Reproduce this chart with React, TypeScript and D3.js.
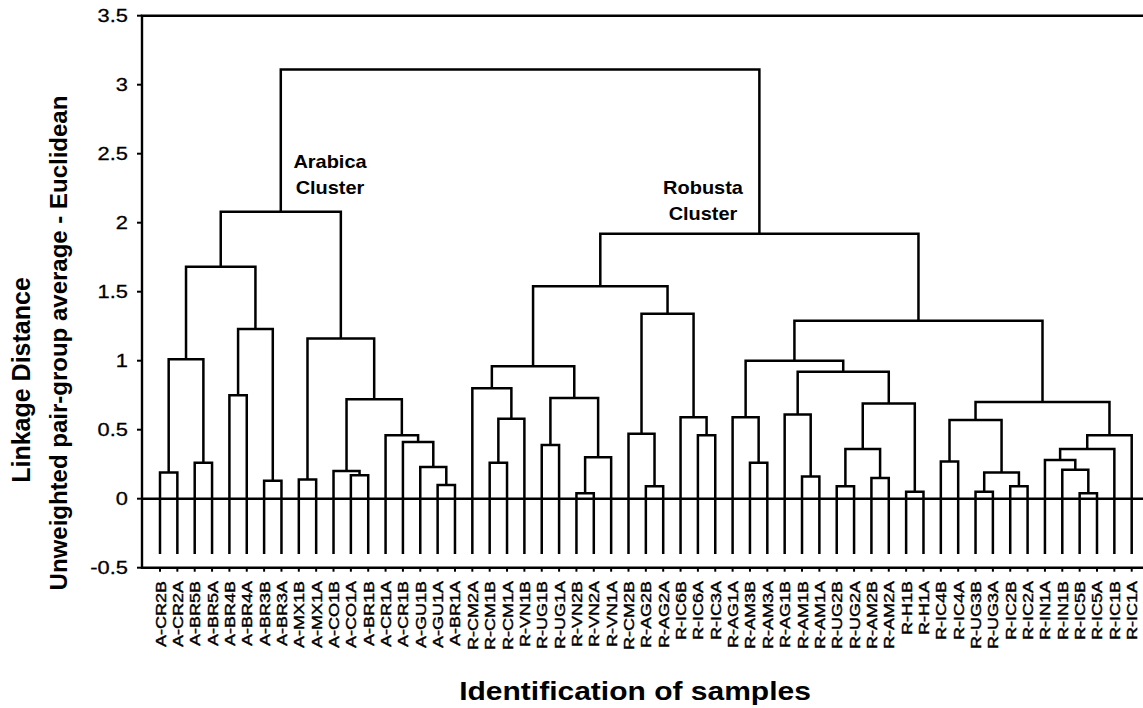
import React from "react";
import * as d3 from "d3";

// tree nodes: leaf label, or [left, right, linkage distance]
type Node = string | [Node, Node, number];

const arabicaCluster: Node = [
  [
    [["A-CR2B", "A-CR2A", 0.19], ["A-BR5B", "A-BR5A", 0.26], 1.01],
    [["A-BR4B", "A-BR4A", 0.75], ["A-BR3B", "A-BR3A", 0.13], 1.23],
    1.68,
  ],
  [
    ["A-MX1B", "A-MX1A", 0.14],
    [
      ["A-CO1B", ["A-CO1A", "A-BR1B", 0.17], 0.2],
      ["A-CR1A", ["A-CR1B", ["A-GU1B", ["A-GU1A", "A-BR1A", 0.1], 0.23], 0.41], 0.46],
      0.72,
    ],
    1.16,
  ],
  2.08,
];

const robustaLeft: Node = [
  [
    ["R-CM2A", [["R-CM1B", "R-CM1A", 0.26], "R-VN1B", 0.58], 0.8],
    [["R-UG1B", "R-UG1A", 0.39], [["R-VN2B", "R-VN2A", 0.04], "R-VN1A", 0.3], 0.73],
    0.96,
  ],
  [
    ["R-CM2B", ["R-AG2B", "R-AG2A", 0.09], 0.47],
    ["R-IC6B", ["R-IC6A", "R-IC3A", 0.46], 0.59],
    1.34,
  ],
  1.54,
];

const robustaRight: Node = [
  [
    ["R-AG1A", ["R-AM3B", "R-AM3A", 0.26], 0.59],
    [
      ["R-AG1B", ["R-AM1B", "R-AM1A", 0.16], 0.61],
      [[["R-UG2B", "R-UG2A", 0.09], ["R-AM2B", "R-AM2A", 0.15], 0.36], ["R-H1B", "R-H1A", 0.05], 0.69],
      0.92,
    ],
    1.0,
  ],
  [
    [["R-IC4B", "R-IC4A", 0.27], [["R-UG3B", "R-UG3A", 0.05], ["R-IC2B", "R-IC2A", 0.09], 0.19], 0.57],
    [[["R-IN1A", ["R-IN1B", ["R-IC5B", "R-IC5A", 0.04], 0.21], 0.28], "R-IC1B", 0.36], "R-IC1A", 0.46],
    0.7,
  ],
  1.29,
];

const robustaHeight = 1.92;
const rootHeight = 3.11;
const leafBase = -0.4;

const yTicks = [-0.5, 0, 0.5, 1, 1.5, 2, 2.5, 3, 3.5];

const clusterLabels = [
  { lines: ["Arabica", "Cluster"], x: 330, y: 168 },
  { lines: ["Robusta", "Cluster"], x: 703, y: 194 },
];

const FONT = "'Liberation Sans', Arial, Helvetica, sans-serif";

export default function App() {
  const W = 1143;
  const H = 708;
  const left = 142;
  const right = 1145;
  const top = 15.7;
  const bottom = 567.7;

  const y = d3.scaleLinear().domain([-0.5, 3.5]).range([bottom, top]);

  const tree: Node = [arabicaCluster, [robustaLeft, robustaRight, robustaHeight], rootHeight];
  const root: any = d3.hierarchy<Node>(tree, (d) => (typeof d === "string" ? null : [d[0], d[1]]));
  const leaves: string[] = root.leaves().map((l: any) => l.data);

  const x = d3.scalePoint<string>().domain(leaves).range([160, 1131.7]);

  // node x = midpoint of children, node height = linkage distance
  root.eachAfter((n: any) => {
    if (!n.children) {
      n.px = x(n.data);
      n.h = leafBase;
    } else {
      n.px = d3.mean(n.children, (c: any) => c.px);
      n.h = n.data[2];
    }
  });

  const links: string[] = root
    .descendants()
    .filter((n: any) => n.children)
    .map((n: any) => {
      const [a, b] = n.children;
      return `M${a.px},${y(a.h)}V${y(n.h)}H${b.px}V${y(b.h)}`;
    });

  return (
    <svg
      width={W}
      height={H}
      style={{ position: "absolute", left: 0, top: 0, background: "#fff" }}
      fontFamily={FONT}
    >
      {/* frame */}
      <path
        d={`M${right},${top}H${left}V${bottom}H${right}`}
        fill="none"
        stroke="#000"
        strokeWidth={2.4}
      />
      <line x1={left} x2={right} y1={y(0)} y2={y(0)} stroke="#000" strokeWidth={2.4} />

      {/* y axis */}
      {yTicks.map((t) => (
        <g key={t}>
          <line x1={left - 5} x2={left} y1={y(t)} y2={y(t)} stroke="#000" strokeWidth={2} />
          <text
            transform={`translate(128,${y(t) + 6.5}) scale(1.15,1)`}
            textAnchor="end"
            fontSize={19}
            stroke="#000"
            strokeWidth={0.3}
          >
            {String(t)}
          </text>
        </g>
      ))}

      {/* x axis ticks and leaf labels */}
      {leaves.map((l) => (
        <g key={l}>
          <line x1={x(l)} x2={x(l)} y1={bottom} y2={bottom + 4} stroke="#000" strokeWidth={2} />
          <text
            transform={`translate(${(x(l) as number) + 5.5},581) scale(0.85,1) rotate(-90)`}
            textAnchor="end"
            fontSize={18}
            stroke="#000"
            strokeWidth={0.5}
          >
            {l}
          </text>
        </g>
      ))}

      {/* dendrogram */}
      {links.map((d, i) => (
        <path key={i} d={d} fill="none" stroke="#000" strokeWidth={2.5} strokeLinejoin="miter" />
      ))}

      {clusterLabels.map((c) => (
        <g key={c.lines[0]}>
          {c.lines.map((t, i) => (
            <text
              key={i}
              transform={`translate(${c.x},${c.y + i * 25.5}) scale(1.05,1)`}
              textAnchor="middle"
              fontSize={19}
              fontWeight="bold"
            >
              {t}
            </text>
          ))}
        </g>
      ))}

      {/* axis titles */}
      <text
        transform="translate(30,380) rotate(-90)"
        textAnchor="middle"
        fontSize={25}
        fontWeight="bold"
      >
        Linkage Distance
      </text>
      <text
        transform="translate(67,343) rotate(-90)"
        textAnchor="middle"
        fontSize={24}
        fontWeight="bold"
      >
        Unweighted pair-group average - Euclidean
      </text>
      <text
        transform="translate(635,700) scale(1.2,1)"
        textAnchor="middle"
        fontSize={25}
        fontWeight="bold"
      >
        Identification of samples
      </text>
    </svg>
  );
}
